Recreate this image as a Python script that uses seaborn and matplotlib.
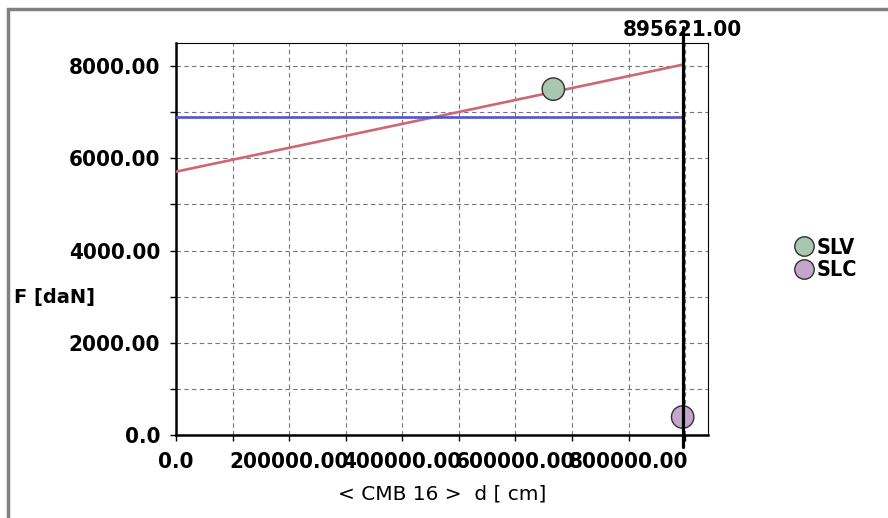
import numpy as np
import pandas as pd
import matplotlib
matplotlib.use('Agg')
import matplotlib.pyplot as plt
import matplotlib.patches as patches
from matplotlib.ticker import MultipleLocator, FuncFormatter
import seaborn as sns

# data
d_line = [0, 895621]
f_red = [5710, 8030]
f_blue = [6890, 6890]
pt_names = ['SLV', 'SLC']
pt_d = [667000, 895621]
pt_f = [7500, 390]
d_mark = 895621
pt_colors = ['#a9c7b0', '#c4a6cc']

sns.set_style('white')
plt.rcParams['font.family'] = ['DejaVu Sans']
plt.rcParams['text.color'] = 'black'
plt.rcParams['xtick.color'] = 'black'
plt.rcParams['ytick.color'] = 'black'
plt.rcParams['axes.labelcolor'] = 'black'

fig = plt.figure(figsize=(8.88, 5.18), dpi=100)
ax = fig.add_axes([176/888, 1-435/518, (708-176)/888, (435-43)/518])

lines = pd.DataFrame({'d': d_line + d_line,
                      'F': f_red + f_blue,
                      'serie': ['r', 'r', 'b', 'b']})
sns.lineplot(data=lines, x='d', y='F', hue='serie', palette={'r': '#cf6673', 'b': '#5252d2'},
             lw=1.9, legend=False, ax=ax, zorder=3)

pts = pd.DataFrame({'d': pt_d, 'F': pt_f, 'name': pt_names})
sns.scatterplot(data=pts, x='d', y='F', hue='name', palette=dict(zip(pt_names, pt_colors)),
                s=260, edgecolor='#303030', linewidth=1.0, ax=ax, zorder=5, clip_on=False, legend=False)

bold = dict(fontsize=16, fontweight='bold', fontstretch='condensed')

ax.axvline(d_mark, ymin=-0.031, ymax=1.04, color='black', lw=2.3, clip_on=False, zorder=6)
ax.text(d_mark, 8500 * 1.033, '%.2f' % d_mark, ha='center', va='center', **bold)

ax.set_xlim(0, d_mark * 1.05)
ax.set_ylim(0, 8500)

ax.xaxis.set_major_locator(MultipleLocator(100000))
ax.yaxis.set_major_locator(MultipleLocator(1000))

def fmt_x(v, pos):
    i = int(round(v / 100000))
    if i % 2:
        return ''
    return '0.0' if i == 0 else '%.2f' % v

def fmt_y(v, pos):
    i = int(round(v / 1000))
    if i % 2:
        return ''
    return '0.0' if i == 0 else '%.2f' % v

ax.xaxis.set_major_formatter(FuncFormatter(fmt_x))
ax.yaxis.set_major_formatter(FuncFormatter(fmt_y))
ax.tick_params(axis='both', which='major', direction='out', length=4.5, width=1.0,
               color='black', labelsize=16, left=True, bottom=True)
ax.tick_params(axis='y', pad=7)
ax.tick_params(axis='x', pad=8)
for lab in ax.get_xticklabels() + ax.get_yticklabels():
    lab.set_fontweight('bold')
    lab.set_fontstretch('condensed')

ax.grid(True, color='#777777', linestyle=(0, (4, 3)), linewidth=0.8)
ax.set_axisbelow(True)

for side in ['left', 'bottom']:
    ax.spines[side].set_linewidth(1.8)
    ax.spines[side].set_color('black')
for side in ['top', 'right']:
    ax.spines[side].set_linewidth(0.8)
    ax.spines[side].set_color('black')

ax.set_xlabel('< CMB 16 >  d [ cm]', fontsize=14.5, labelpad=9)
ax.set_ylabel('')
fig.text(14/888, 1-297/518, 'F [daN]', fontsize=14, fontweight='bold', va='center', ha='left')

# legend for the points
handles = [plt.Line2D([], [], marker='o', ls='', markersize=14, markerfacecolor=c,
                      markeredgecolor='#303030', markeredgewidth=1.0) for c in pt_colors]
fig.legend(handles, pt_names, loc='upper left', bbox_to_anchor=(780/888, 1-227/518),
           frameon=False, borderpad=0, handletextpad=0.0, labelspacing=0.12,
           handlelength=1.2, prop={'size': 15.5, 'weight': 'bold', 'stretch': 'condensed'})

# outer grey frame
fig.patches.append(patches.Rectangle((8/888, -0.02), 1.0, (518-9)/518 + 0.02,
                                     transform=fig.transFigure, fill=False,
                                     edgecolor='#808080', lw=2.5))

fig.savefig('out.png', dpi=100)
